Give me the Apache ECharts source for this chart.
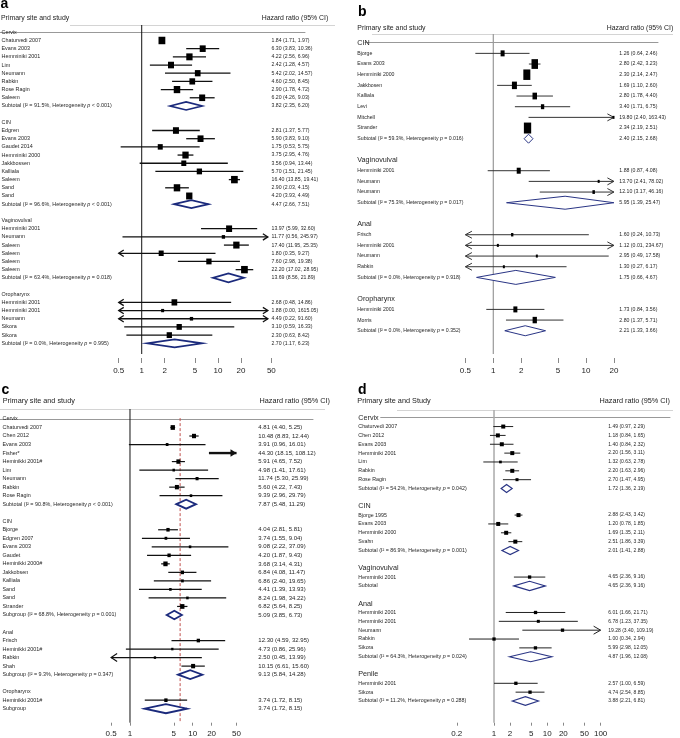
<!DOCTYPE html>
<html><head><meta charset="utf-8">
<script src="https://cdn.jsdelivr.net/npm/echarts@6/dist/echarts.min.js"></script>
<style>html,body{margin:0;padding:0;background:#fff}#chart{width:680px;height:738px}</style>
</head><body><div id="chart"></div>
<script>
// ---------------- Panel a ----------------
const aLabels = ['Cervix','Chaturvedi 2007','Evans 2003','Hemminiki 2001','Lim','Neumann','Rabkin','Rose Ragin','Saleem',
 'Subtotal (I² = 91.5%, Heterogeneity p < 0.001)','',
 'CIN','Edgren','Evans 2003','Gaudet 2014','Hemminiki 2000','Jakkbossen','Kalliala','Saleem','Sand','Sand',
 'Subtotal (I² = 96.6%, Heterogeneity p < 0.001)','',
 'Vaginovulval','Hemminiki 2001','Neumann','Saleem','Saleem','Saleem','Saleem',
 'Subtotal (I² = 63.4%, Heterogeneity p = 0.018)','',
 'Oropharynx','Hemminiki 2001','Hemminiki 2001','Neumann','Sikora','Sikora',
 'Subtotal (I² = 0.0%, Heterogeneity p = 0.995)'];
const aEst  = [null,1.84,6.30,4.22,2.42,5.42,4.60,2.90,6.20,3.82,null,
 null,2.81,5.90,1.75,3.75,3.56,5.70,16.40,2.90,4.20,4.47,null,
 null,13.97,11.77,17.40,1.80,7.60,22.20,13.69,null,
 null,2.68,1.88,4.49,3.10,2.30,2.70];
const aLow  = [null,1.71,3.83,2.56,1.28,2.02,2.50,1.78,4.26,2.35,null,
 null,1.37,3.83,0.53,2.95,0.94,1.51,13.85,2.03,3.93,2.66,null,
 null,5.99,0.56,11.95,0.35,2.98,17.02,8.56,null,
 null,0.48,0.00,0.22,0.59,0.63,1.17];
const aHigh = [null,1.97,10.36,6.96,4.57,14.57,8.45,4.72,9.03,6.20,null,
 null,5.77,9.10,5.75,4.76,13.44,21.45,19.41,4.15,4.49,7.51,null,
 null,32.60,245.97,25.35,9.27,19.38,28.95,21.89,null,
 null,14.86,1615.05,91.60,16.33,8.42,6.23];
const aWeight = [null,6.8,6,6.3,6,5.7,5.7,6.5,6,8,null,
 null,6,6,5,6.3,5,5.3,6.7,6.5,6.3,8,null,
 null,6,3.3,6.3,5,5.3,6.7,9,null,
 null,5.7,3,3.3,5.3,5.3,8];
const aTicks = [0.5,1,2,5,10,20,50];

// ---------------- Panel b ----------------
const bLabels = ['CIN','Bjorge','Evans 2003','Hemminiki 2000','Jakkbosen','Kalliala','Levi','Mitchell','Strander',
 'Subtotal (I² = 59.3%, Heterogeneity p = 0.016)','',
 'Vaginovulval','Hemminiki 2001','Neumann','Neumann',
 'Subtotal (I² = 75.3%, Heterogeneity p = 0.017)','',
 'Anal','Frisch','Hemminiki 2001','Neumann','Rabkin',
 'Subtotal (I² = 0.0%, Heterogeneity p = 0.918)','',
 'Oropharynx','Hemminiki 2001','Morris',
 'Subtotal (I² = 0.0%, Heterogeneity p = 0.352)'];
const bEst  = [null,1.26,2.80,2.30,1.69,2.80,3.40,19.80,2.34,2.40,null,
 null,1.88,13.70,12.10,5.95,null,
 null,1.60,1.12,2.95,1.30,1.75,null,
 null,1.73,2.80,2.21];
const bLow  = [null,0.64,2.42,2.14,1.10,1.78,1.71,2.40,2.19,2.15,null,
 null,0.87,2.41,3.17,1.39,null,
 null,0.24,0.01,0.49,0.27,0.66,null,
 null,0.84,1.37,1.33];
const bHigh = [null,2.46,3.23,2.47,2.60,4.40,6.75,163.43,2.51,2.68,null,
 null,4.08,78.02,46.16,25.47,null,
 null,10.73,234.67,17.58,6.17,4.67,null,
 null,3.56,5.71,3.66];
const bWeight = [null,4,6.5,7,5,4.5,3.3,2,7.3,9,null,
 null,4,2,2.5,13,null,
 null,2.3,2,2,2,14,null,
 null,4,4.3,10];
const bTicks = [0.5,1,2,5,10,20];

// ---------------- Panel c ----------------
const cLabels = ['Cervix','Chaturvedi 2007','Chen 2012','Evans 2003','Fisher*','Heminikki 2001#','Lim','Neumann','Rabkin','Rose Ragin',
 'Subtotal (I² = 90.8%, Heterogeneity p < 0.001)','',
 'CIN','Bjorge','Edgren 2007','Evans 2003','Gaudet','Heminikki 2000#','Jakkobsen','Kalliala','Sand','Sand','Strander',
 'Subgroup (I² = 68.8%, Heterogeneity p = 0.001)','',
 'Anal','Frisch','Heminikki 2001#','Rabkin','Shah',
 'Subgroup (I² = 9.3%, Heterogeneity p = 0.347)','',
 'Oropharynx','Heminikki 2001#','Subgroup'];
const cEst  = [null,4.81,10.48,3.91,44.30,5.91,4.98,11.74,5.60,9.39,7.87,null,
 null,4.04,3.74,9.08,4.20,3.68,6.84,6.86,4.41,8.24,6.82,5.09,null,
 null,12.30,4.73,2.50,10.15,9.13,null,
 null,3.74,3.74];
const cLow  = [null,4.40,8.83,0.96,18.15,4.65,1.41,5.30,4.22,2.96,5.48,null,
 null,2.81,1.55,2.22,1.87,3.14,4.08,2.40,1.39,1.98,5.64,3.85,null,
 null,4.59,0.86,0.45,6.61,5.84,null,
 null,1.72,1.72];
const cHigh = [null,5.25,12.44,16.01,108.12,7.52,17.61,25.99,7.43,29.79,11.29,null,
 null,5.81,9.04,37.09,9.43,4.31,11.47,19.65,13.93,34.22,8.25,6.73,null,
 null,32.95,25.96,13.99,15.60,14.28,null,
 null,8.15,8.15];
const cWeight = [null,4.3,4,2.7,2.5,4,2.5,3,4,2.5,9,null,
 null,3.3,2.7,2.5,3.3,4.3,3.3,2.7,2.5,2.5,4.3,8.5,null,
 null,3.3,2.3,2.3,4,9,null,
 null,3.3,9];
const cTicks = [0.5,1,5,10,20,50];
const cOverall = 6.3;

// ---------------- Panel d ----------------
const dLabels = ['Cervix','Chaturvedi 2007','Chen 2012','Evans 2003','Hemminiki 2001','Lim','Rabkin','Rose Ragin',
 'Subtotal (I² = 54.2%, Heterogeneity p = 0.042)','',
 'CIN','Bjorge 1995','Evans 2003','Hemminiki 2000','Svahn',
 'Subtotal (I² = 86.9%, Heterogeneity p = 0.001)','',
 'Vaginovulval','Hemminiki 2001','Subtotal','',
 'Anal','Hemminiki 2001','Hemminiki 2001','Neumann','Rabkin','Sikora',
 'Subtotal (I² = 64.3%, Heterogeneity p = 0.024)','',
 'Penile','Hemminiki 2001','Sikora',
 'Subtotal (I² = 11.2%, Heterogeneity p = 0.288)'];
const dEst  = [null,1.49,1.18,1.40,2.20,1.32,2.20,2.70,1.72,null,
 null,2.88,1.20,1.69,2.51,2.01,null,
 null,4.65,4.65,null,
 null,6.01,6.78,19.28,1.00,5.99,4.87,null,
 null,2.57,4.74,3.88];
const dLow  = [null,0.97,0.84,0.84,1.56,0.63,1.63,1.47,1.36,null,
 null,2.43,0.78,1.35,1.86,1.41,null,
 null,2.36,2.36,null,
 null,1.66,1.23,3.40,0.34,2.98,1.96,null,
 null,1.00,2.54,2.21];
const dHigh = [null,2.29,1.65,2.32,3.11,2.78,2.96,4.95,2.19,null,
 null,3.42,1.85,2.11,3.39,2.88,null,
 null,9.16,9.16,null,
 null,21.71,37.35,109.19,2.94,12.05,12.08,null,
 null,6.59,8.85,6.81];
const dWeight = [null,4,4,4,4,2.7,4,3,8,null,
 null,4,4,4,4,8.3,null,
 null,3.3,9.3,null,
 null,3.3,3,3.3,3.3,3.3,10,null,
 null,3.3,3.3,8.7];
const dTicks = [0.2,1,2,5,10,20,50,100];

const refValue = 1;
const FONT = "'Liberation Sans', Arial, Helvetica, sans-serif";

const panels = [
 {labels:aLabels, est:aEst, lo:aLow, hi:aHigh, weight:aWeight, ticks:aTicks,
  grid:{left:0, top:25, width:305, height:329}, xMin:0.0139, xMax:138, yMin:-0.892, yMax:39.307,
  leftX:1.5, rightX:271.5, clip:[0.5,45], groupFont:5.4, textFont:5.4, valueFont:5.2, boxAspect:1.1,
  ciColor:'#111', ciWidth:1.3, refColor:'#111', refWidth:1, diamondColor:'#1b2a7c', diamondWidth:1.7,
  arrowL:5, arrowH:3.2, axisOffset:4, tickLen:5, labelMargin:9,
  letter:'a', letterX:0.5, letterBase:8.5, headY:18.3, headLX:1, headRX:328.3, headFont:6.9, lineY:25.5, lineX:[70,335]},
 {labels:bLabels, est:bEst, lo:bLow, hi:bHigh, weight:bWeight, ticks:bTicks,
  grid:{left:365, top:34, width:293, height:320}, xMin:0.0413, xMax:59.8, yMin:-0.815, yMax:29.18,
  leftX:357.3, rightX:619.3, clip:[0.5,20], groupFont:7.2, textFont:5.2, valueFont:5.2, boxAspect:1.5,
  ciColor:'#333', ciWidth:1, refColor:'#999', refWidth:1.2, diamondColor:'#2a3585', diamondWidth:1,
  arrowL:6.5, arrowH:3.5, axisOffset:4, tickLen:5, labelMargin:9,
  letter:'b', letterX:358, letterBase:16, headY:27.7, headLX:357.3, headRX:673.3, headFont:6.9, lineY:34.5, lineX:[372,673]},
 {labels:cLabels, est:cEst, lo:cLow, hi:cHigh, weight:cWeight, ticks:cTicks,
  grid:{left:0, top:409, width:313, height:313.7}, xMin:0.00845, xMax:829, yMin:-1.17, yMax:35.64,
  leftX:2.5, rightX:258.3, clip:[0.5,50], groupFont:5.4, textFont:5.4, valueFont:6.0, boxAspect:1.1,
  ciColor:'#111', ciWidth:1.2, refColor:'#111', refWidth:1, diamondColor:'#1b2a7c', diamondWidth:1.8,
  arrowL:6, arrowH:4, thickRight:true, thickWidth:2.4, overall:cOverall, axisOffset:0, tickLen:3, labelMargin:7,
  letter:'c', letterX:1.5, letterBase:394, headY:400.5, headLX:2.7, headRX:330, headFont:7.3, lineY:409.5, lineX:[0,325]},
 {labels:dLabels, est:dEst, lo:dLow, hi:dHigh, weight:dWeight, ticks:dTicks,
  grid:{left:380.7, top:410, width:289.3, height:312.7}, xMin:0.00748, xMax:2004, yMin:-0.87, yMax:34.45,
  leftX:358.3, rightX:608.3, clip:[0.2,100], groupFont:7.2, textFont:5.3, valueFont:5.0, boxAspect:1,
  ciColor:'#222', ciWidth:1, refColor:'#aaa', refWidth:1.5, diamondColor:'#2a3585', diamondWidth:1.2,
  arrowL:7, arrowH:4, axisOffset:0, tickLen:3, labelMargin:7,
  letter:'d', letterX:358, letterBase:394, headY:400.5, headLX:357.3, headRX:670, headFont:7.3, lineY:410.5, lineX:[397,673]}
];

const fmt = v => v.toFixed(2);
function richLabel(s) { return s.replace(' p ', ' {i|p} '); }

function textEl(x, y, text, size, align, color) {
  return {type:'text', x:x, y:y, silent:true,
    style:{text:text, fontSize:size, fontFamily:FONT, fill:color, align:align, verticalAlign:'middle',
      rich:{i:{fontStyle:'italic', fontSize:size, fontFamily:FONT, fill:color}}}};
}

function renderer(P) {
  return function (params, api) {
    const i = params.dataIndex;
    const row = api.value(1);
    const y = api.coord([refValue, row])[1];
    const kids = [];
    const label = P.labels[i];
    const est = P.est[i];
    const isHead = est == null;
    const isSub = /^(Subtotal|Subgroup)/.test(label);
    if (label) kids.push(textEl(P.leftX, y, richLabel(label), isHead ? P.groupFont : P.textFont, 'left', '#262626'));
    if (isHead) return {type:'group', children:kids};
    const lo = P.lo[i], hi = P.hi[i], w = P.weight[i];
    kids.push(textEl(P.rightX, y, fmt(est) + ' (' + fmt(lo) + ', ' + fmt(hi) + ')', P.valueFont, 'left', '#262626'));
    const xl = api.coord([Math.max(lo, P.clip[0]), row])[0];
    const xh = api.coord([Math.min(hi, P.clip[1]), row])[0];
    const xe = api.coord([est, row])[0];
    if (isSub) {
      kids.push({type:'polygon', shape:{points:[[xl,y],[xe,y-w/2],[xh,y],[xe,y+w/2]]},
        style:{fill:'#fff', stroke:P.diamondColor, lineWidth:P.diamondWidth, lineJoin:'miter'}});
    } else {
      const thick = P.thickRight && hi > P.clip[1];
      kids.push({type:'line', shape:{x1:xl, y1:y, x2:xh, y2:y},
        style:{stroke:P.ciColor, lineWidth: thick ? P.thickWidth : P.ciWidth}});
      if (lo < P.clip[0]) kids.push({type:'polyline', shape:{points:[[xl+P.arrowL,y-P.arrowH],[xl,y],[xl+P.arrowL,y+P.arrowH]]},
        style:{stroke:P.ciColor, lineWidth:P.ciWidth, fill:null}});
      if (hi > P.clip[1]) {
        if (thick) kids.push({type:'polygon', shape:{points:[[xh-6,y-3.8],[xh,y],[xh-6,y+3.8]]}, style:{fill:P.ciColor}});
        else kids.push({type:'polyline', shape:{points:[[xh-P.arrowL,y-P.arrowH],[xh,y],[xh-P.arrowL,y+P.arrowH]]},
          style:{stroke:P.ciColor, lineWidth:P.ciWidth, fill:null}});
      }
      if (!thick) kids.push({type:'rect', shape:{x:xe-w/2, y:y-w*P.boxAspect/2, width:w, height:w*P.boxAspect},
        style:{fill:'#000'}});
    }
    return {type:'group', children:kids};
  };
}

const grid = [], xAxis = [], yAxis = [], series = [], graphic = [];
panels.forEach((P, k) => {
  grid.push(Object.assign({containLabel:false}, P.grid));
  // axis line only
  xAxis.push({type:'log', logBase:10, gridIndex:k, min:P.xMin, max:P.xMax, position:'bottom',
    axisLine:{show:true, lineStyle:{color:'#999', width:1}}, axisTick:{show:false}, axisLabel:{show:false},
    splitLine:{show:false}, minorTick:{show:false}, minorSplitLine:{show:false}});
  // ticks + labels
  xAxis.push({type:'log', logBase:10, gridIndex:k, min:P.xMin, max:P.xMax, position:'bottom', offset:P.axisOffset,
    axisLine:{show:false}, axisTick:{show:true, length:P.tickLen, customValues:P.ticks, lineStyle:{color:'#888', width:1}},
    axisLabel:{show:true, customValues:P.ticks, fontSize:8, fontFamily:FONT, color:'#222', margin:P.labelMargin,
      formatter:v => String(v)},
    splitLine:{show:false}, minorTick:{show:false}, minorSplitLine:{show:false}});
  yAxis.push({type:'value', gridIndex:k, inverse:true, min:P.yMin, max:P.yMax, show:false});
  const xi = 2*k;
  series.push({type:'line', xAxisIndex:xi, yAxisIndex:k, silent:true, symbol:'none', z:1,
    data:[[refValue, P.yMin],[refValue, P.yMax]], lineStyle:{color:P.refColor, width:P.refWidth}});
  if (P.overall != null) {
    series.push({type:'line', xAxisIndex:xi, yAxisIndex:k, silent:true, symbol:'none', z:1,
      data:[[P.overall, -0.1],[P.overall, P.yMax]], lineStyle:{color:'#c0504d', width:1, type:[3,2]}});
  }
  series.push({type:'custom', xAxisIndex:xi, yAxisIndex:k, clip:false, silent:true, z:3,
    data:P.labels.map((_, i) => [P.est[i] == null ? refValue : P.est[i], i]),
    renderItem:renderer(P)});
  graphic.push({type:'text', x:P.letterX, y:P.letterBase + 3, style:{text:P.letter, fontSize:14, fontWeight:'bold', fontFamily:FONT, fill:'#000', verticalAlign:'bottom'}});
  graphic.push({type:'text', x:P.headLX, y:P.headY, style:{text:'Primary site and ' + (k === 3 ? 'Study' : 'study'), fontSize:P.headFont, fontFamily:FONT, fill:'#222', verticalAlign:'middle'}});
  graphic.push({type:'text', x:P.headRX, y:P.headY, style:{text:'Hazard ratio (95% CI)', fontSize:P.headFont, fontFamily:FONT, fill:'#222', align:'right', verticalAlign:'middle'}});
  graphic.push({type:'line', shape:{x1:P.lineX[0], y1:P.lineY, x2:P.lineX[1], y2:P.lineY}, style:{stroke:'#d4d4d4', lineWidth:1}, z:0});
});

const chart = echarts.init(document.getElementById('chart'), null, {renderer:'canvas'});
chart.setOption({animation:false, backgroundColor:'#fff', grid, xAxis, yAxis, series, graphic});
</script></body></html>
